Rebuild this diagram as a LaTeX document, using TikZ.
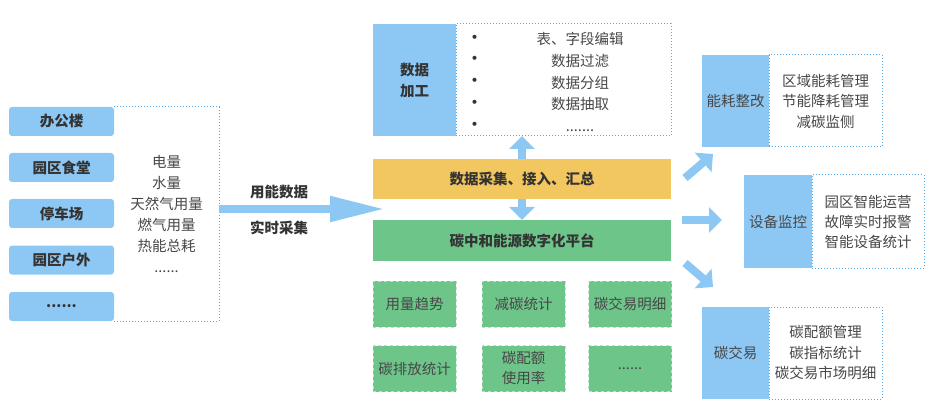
\documentclass[tikz,border=0pt]{standalone}
\usepackage{fontspec}
\setmainfont{Noto Sans CJK SC}
\usetikzlibrary{arrows.meta,positioning}
\definecolor{skyblue}{HTML}{8DC8F5}
\definecolor{dotblue}{HTML}{4FA7EC}
\definecolor{sunyellow}{HTML}{F3C760}
\definecolor{leafgreen}{HTML}{6EC589}
\definecolor{palegreen}{HTML}{B7E4C3}
\definecolor{inkgray}{HTML}{333333}
\definecolor{textgray}{HTML}{474747}
\begin{document}
\begin{tikzpicture}[x=1pt, y=-1pt,
    every node/.style={inner sep=0pt, outer sep=0pt, text=textgray,
        font=\fontsize{14.5}{21}\selectfont},
    boldtext/.style={text=inkgray, font=\fontsize{14.5}{21}\selectfont\bfseries},
    srcbox/.style={boldtext, fill=skyblue, rounded corners=3pt,
        minimum width=105pt, minimum height=29pt},
    dotline/.style={draw=dotblue, dotted, line width=1pt},
    listbox/.style={dotline, align=center, font=\fontsize{14.5}{20.5}\selectfont},
    titlebox/.style={fill=skyblue, minimum width=67pt, minimum height=92pt},
    appbox/.style={fill=leafgreen, draw=palegreen, dashed, line width=0.8pt,
        minimum width=83pt, minimum height=46pt, align=center,
        font=\fontsize{14.5}{20}\selectfont},
    bandbox/.style={boldtext, minimum width=298pt},
    blockarrow/.style={draw=skyblue, line width=8pt,
        -{Triangle[length=13pt, width=25pt]}}
  ]
  \useasboundingbox (0,0) rectangle (945,414);

  % sources
  \node [srcbox] (office)  at (61.5,121.5) {办公楼};
  \node [srcbox] (canteen) at (61.5,167.5) {园区食堂};
  \node [srcbox] (parking) at (61.5,213.5) {停车场};
  \node [srcbox] (outdoor) at (61.5,260)   {园区户外};
  \node [srcbox] (moresrc) at (61.5,306.5) {......};

  \node [align=center, minimum width=105pt, minimum height=214pt] (usage) at (166.5,214)
    {电量\\水量\\天然气用量\\燃气用量\\热能总耗\\......};
  \draw [dotline] (usage.north west) -- (usage.north east)
    -- (usage.south east) -- (usage.south west);

  \coordinate (entry) at (385,209);
  \draw [blockarrow, -{Triangle[length=55pt, width=24pt]}] (usage.east |- entry) -- (entry);
  \node [boldtext] (uselabel)  at (279,192) {用能数据};
  \node [boldtext] (realtime) at (279,228) {实时采集};

  % data processing
  \node [titlebox, boldtext, minimum width=83pt, minimum height=112pt, align=center]
    (proc) at (414.5,80) {数据\\加工};
  \node [dotline, minimum width=215pt, minimum height=112pt, right=0pt of proc] (proclist) {};
  \node [align=center, font=\fontsize{14.5}{21.7}\selectfont] (procitems) at (580,82)
    {表、字段编辑\\数据过滤\\数据分组\\数据抽取\\.......};
  \node [align=center, font=\fontsize{19}{21.7}\selectfont, text=inkgray] (bullets) at (475,83)
    {•\\•\\•\\•\\•};

  \node [bandbox, fill=sunyellow, minimum height=40pt] (collect) at (522,179) {数据采集、接入、汇总};
  \node [bandbox, fill=leafgreen, minimum height=41pt] (platform) at (522,240.5) {碳中和能源数字化平台};
  \draw [blockarrow] (collect.north) -- (collect.north |- proclist.south);
  \draw [blockarrow] (collect.south) -- (platform.north);

  % applications
  \node [appbox] (trend)    at (414.5,304)  {用量趋势};
  \node [appbox] (cutstat)  at (523.5,304)  {减碳统计};
  \node [appbox] (tradelog) at (630,304)    {碳交易明细};
  \node [appbox] (emission) at (414.5,368.5) {碳排放统计};
  \node [appbox] (quota)    at (523.5,368.5) {碳配额\\使用率};
  \node [appbox] (moreapp)  at (630,368.5)   {......};

  % outputs
  \node [titlebox] (energy) at (735.5,101) {能耗整改};
  \node [listbox, minimum width=113pt, minimum height=92pt, right=0pt of energy] (energylist)
    {区域能耗管理\\节能降耗管理\\减碳监侧};
  \node [titlebox, minimum width=68pt, minimum height=93pt] (monitor) at (778,221.5) {设备监控};
  \node [listbox, minimum width=112pt, minimum height=93pt, right=0pt of monitor,
    font=\fontsize{14.5}{20}\selectfont] (monitorlist)
    {园区智能运营\\故障实时报警\\智能设备统计};
  \node [titlebox] (trade) at (735.5,353) {碳交易};
  \node [listbox, minimum width=113pt, minimum height=92pt, right=0pt of trade] (tradelist)
    {碳配额管理\\碳指标统计\\碳交易市场明细};

  \coordinate (upfrom) at (685,178);
  \coordinate (upto) at (713,154);
  \coordinate (midfrom) at (682,220);
  \coordinate (midto) at (722,220);
  \coordinate (downfrom) at (685,263);
  \coordinate (downto) at (713,287);
  \draw [blockarrow] (upfrom) -- (upto);
  \draw [blockarrow] (midfrom) -- (midto);
  \draw [blockarrow] (downfrom) -- (downto);
\end{tikzpicture}
\end{document}
